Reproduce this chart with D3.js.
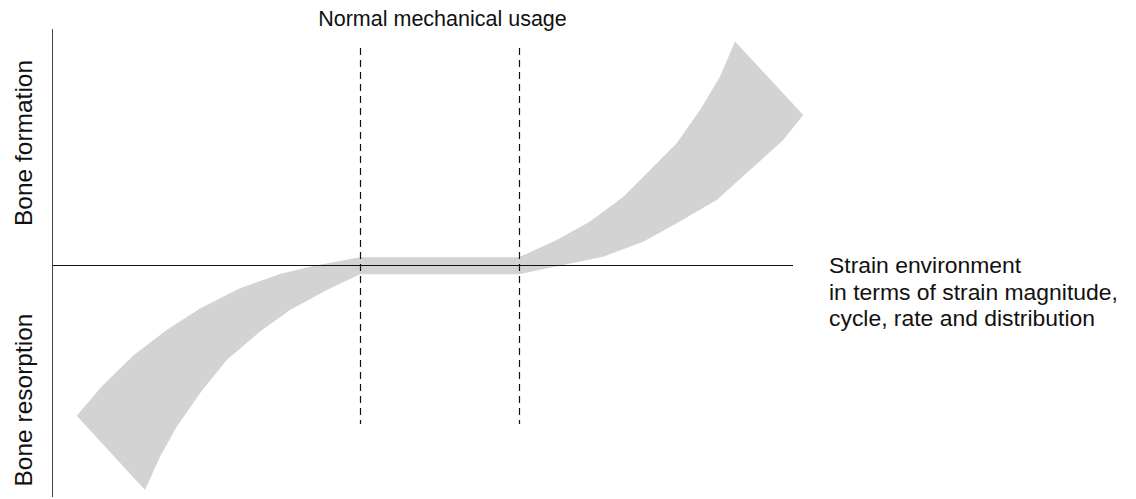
<!DOCTYPE html>
<html>
<head>
<meta charset="utf-8">
<script src="https://cdn.jsdelivr.net/npm/d3@7"></script>
<style>
  html, body { margin: 0; padding: 0; background: #fff; }
  svg { display: block; }
  text { font-family: "Liberation Sans", Arial, Helvetica, sans-serif; fill: #111; }
</style>
</head>
<body>
<svg id="chart" width="1136" height="499"></svg>
<script>
// ---- Data (in chart units: x = strain environment, y = formation(+)/resorption(-)) ----
const upperX = [0.32, 0.666, 1.085, 1.536, 1.986, 2.527, 3.068, 3.514, 4.149, 6.297, 6.807, 7.257, 7.707, 8.068, 8.428, 8.743, 9.014, 9.216];
const upperY = [-0.65, -0.52, -0.39, -0.28, -0.187, -0.100, -0.039, -0.004, 0.033, 0.033, 0.108, 0.187, 0.294, 0.409, 0.525, 0.668, 0.812, 0.963];
const lowerX = [1.243, 1.446, 1.672, 1.986, 2.347, 2.797, 3.203, 3.699, 4.149, 6.297, 6.942, 7.436, 7.977, 8.428, 8.969, 9.419, 9.868, 10.139];
const lowerY = [-0.970, -0.826, -0.697, -0.553, -0.409, -0.287, -0.194, -0.108, -0.040, -0.040, 0.003, 0.036, 0.100, 0.180, 0.280, 0.409, 0.539, 0.647];

const normalUsageBounds = [4.149, 6.297];
const dashExtent = [-0.685, 0.935];
const xAxisExtent = [0, 10];
const yAxisExtent = [-1, 1.017];

const titleText = "Normal mechanical usage";
const xLabelLines = ["Strain environment", "in terms of strain magnitude,", "cycle, rate and distribution"];
const yLabelTop = "Bone formation";
const yLabelBottom = "Bone resorption";

// ---- Scales ----
const x = d3.scaleLinear().domain([0, 10]).range([53, 793]);
const y = d3.scaleLinear().domain([-1, 1]).range([497, 33]);

const svg = d3.select("#chart");

// ---- Band polygon ----
const upperPts = upperX.map((v, i) => [v, upperY[i]]);
const lowerPts = lowerX.map((v, i) => [v, lowerY[i]]);
const polygon = upperPts.concat(lowerPts.slice().reverse());
const line = d3.line().x(d => x(d[0])).y(d => y(d[1])).curve(d3.curveLinearClosed);

svg.append("path")
  .attr("d", line(polygon))
  .attr("fill", "#d3d3d3")
  .attr("stroke", "none");

// ---- Axes ----
svg.append("line")
  .attr("x1", x(xAxisExtent[0]) - 0.5).attr("x2", x(xAxisExtent[0]) - 0.5)
  .attr("y1", y(yAxisExtent[0])).attr("y2", y(yAxisExtent[1]))
  .attr("stroke", "#444").attr("stroke-width", 1);

svg.append("line")
  .attr("x1", x(xAxisExtent[0])).attr("x2", x(xAxisExtent[1]))
  .attr("y1", y(0) + 0.5).attr("y2", y(0) + 0.5)
  .attr("stroke", "#111").attr("stroke-width", 1);

// ---- Dashed boundaries ----
svg.selectAll("line.bound")
  .data(normalUsageBounds)
  .enter().append("line")
  .attr("class", "bound")
  .attr("x1", d => Math.round(x(d)) + 0.5).attr("x2", d => Math.round(x(d)) + 0.5)
  .attr("y1", y(dashExtent[1])).attr("y2", y(dashExtent[0]))
  .attr("stroke", "#111").attr("stroke-width", 1.2)
  .attr("stroke-dasharray", "7,5");

// ---- Texts ----
svg.append("text")
  .attr("x", x((normalUsageBounds[0] + normalUsageBounds[1]) / 2) + 3)
  .attr("y", 26)
  .attr("text-anchor", "middle")
  .style("font-size", "21.5px")
  .text(titleText);

const xl = svg.append("text")
  .attr("x", 829)
  .attr("y", 273)
  .style("font-size", "22.9px");
xLabelLines.forEach((t, i) => {
  xl.append("tspan")
    .attr("x", 829)
    .attr("dy", i === 0 ? 0 : 26.5)
    .text(t);
});

svg.append("text")
  .attr("transform", "translate(32," + 143 + ") rotate(-90)")
  .attr("text-anchor", "middle")
  .style("font-size", "24.5px")
  .text(yLabelTop);

svg.append("text")
  .attr("transform", "translate(32," + 400 + ") rotate(-90)")
  .attr("text-anchor", "middle")
  .style("font-size", "24.5px")
  .text(yLabelBottom);
</script>
</body>
</html>
